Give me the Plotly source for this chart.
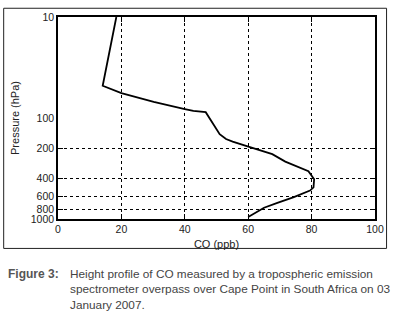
import plotly.graph_objects as go

# CO profile
co_ppb = [18.4, 14.1, 20.0, 30.2, 40.0, 42.7, 46.6, 47.9, 48.9, 50.0, 51.0, 53.0, 55.1,
          59.8, 67.6, 71.7, 79.0, 80.8, 80.6, 79.5, 74.4, 69.2, 65.0, 60.0]
pressure_hpa = [10, 48, 56.8, 69.2, 81.5, 85.0, 87.6, 101.6, 115.8, 131, 144.5, 161.4, 171,
                191, 228, 270, 336, 404, 487, 523, 607, 693, 774, 957]

x_ticks = [0, 20, 40, 60, 80, 100]
y_label_vals = [10, 100, 200, 400, 600, 800, 1000]
y_grid_vals = [200, 400, 600, 800]

caption_head = "Figure 3:"
caption_lines = [
    "Height profile of CO measured by a tropospheric emission",
    "spectrometer overpass over Cape Point in South Africa on 03",
    "January 2007.",
]

AX_FONT = dict(family="Liberation Sans, Arial, sans-serif", size=11, color="#222")
TICK_FONT = dict(family="Liberation Sans, Arial, sans-serif", size=10.5, color="#222")
CAP_FAMILY = "Liberation Sans, Arial, sans-serif"

fig = go.Figure()
fig.add_trace(go.Scatter(x=co_ppb, y=pressure_hpa, mode="lines",
                         line=dict(color="black", width=1.8), showlegend=False,
                         hoverinfo="skip"))
# invisible copy on the overlay axis (grid / tick marks)
fig.add_trace(go.Scatter(x=co_ppb, y=pressure_hpa, mode="lines", yaxis="y2",
                         line=dict(color="rgba(0,0,0,0)", width=0), showlegend=False,
                         hoverinfo="skip"))

fig.update_layout(
    width=395, height=320,
    margin=dict(l=58, r=16, t=11, b=101),
    paper_bgcolor="white", plot_bgcolor="white",
    xaxis=dict(range=[0, 100], tickvals=x_ticks, ticks="inside", ticklen=5,
               tickcolor="black", showline=True, linecolor="black", linewidth=1.5,
               mirror="ticks", showgrid=True, gridcolor="black", griddash="dot",
               gridwidth=1, zeroline=False, tickfont=TICK_FONT,
               title=dict(text="CO (ppb)", font=AX_FONT, standoff=6)),
    yaxis=dict(type="log", range=[3, 1], tickvals=y_label_vals,
               ticktext=[str(v) for v in y_label_vals], ticks="", showgrid=False,
               showline=True, linecolor="black", linewidth=1.5, mirror=True,
               zeroline=False, tickfont=TICK_FONT,
               title=dict(text="Pressure (hPa)", font=AX_FONT, standoff=9)),
    yaxis2=dict(type="log", range=[3, 1], overlaying="y", side="left",
                tickvals=y_grid_vals, showticklabels=False, ticks="inside",
                ticklen=5, tickcolor="black", mirror="ticks", showline=False,
                showgrid=True, gridcolor="black", griddash="dot", gridwidth=1,
                zeroline=False),
)

# outer frame round the chart
fig.add_shape(type="rect", xref="paper", yref="paper",
              x0=(3 - 58) / 321, x1=(390.7 - 58) / 321,
              y0=(219 - 249.3) / 208, y1=(219 - 2) / 208,
              line=dict(color="#222", width=1), layer="below")

fig.add_annotation(text="<b>" + caption_head + "</b>", xref="paper", yref="paper",
                   x=(5 - 58) / 321, y=(219 - 275.5) / 208, xanchor="left",
                   yanchor="middle", showarrow=False,
                   font=dict(family=CAP_FAMILY, size=12, color="#555"))
for line, py in zip(caption_lines, [275.5, 291.5, 307.5]):
    fig.add_annotation(text=line, xref="paper", yref="paper",
                       x=(68 - 58) / 321, y=(219 - py) / 208, xanchor="left",
                       yanchor="middle", showarrow=False,
                       font=dict(family=CAP_FAMILY, size=11.8, color="#444"))

fig.write_html("out.html", config={"displayModeBar": False},
               post_script="document.body.style.margin='0';document.body.style.overflow='hidden';")
